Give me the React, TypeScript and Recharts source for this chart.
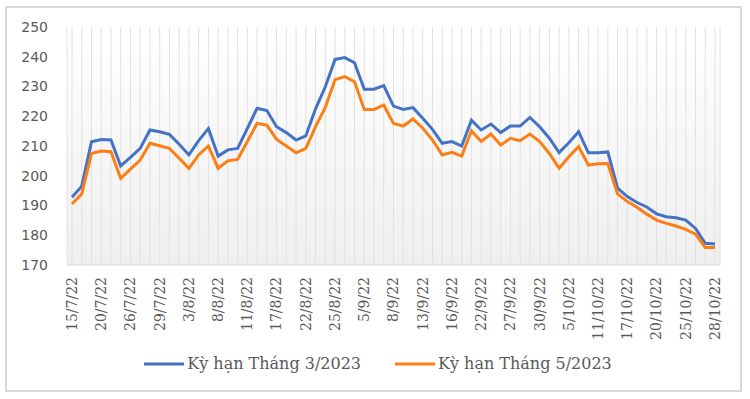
import { LineChart, Line, XAxis, YAxis, CartesianGrid, Legend } from 'recharts'

const DATES = [
  '15/7/22', '18/7/22', '19/7/22', '20/7/22', '21/7/22', '22/7/22', '26/7/22', '27/7/22', '28/7/22',
  '29/7/22', '1/8/22', '2/8/22', '3/8/22', '4/8/22', '5/8/22', '8/8/22', '9/8/22', '10/8/22',
  '11/8/22', '12/8/22', '16/8/22', '17/8/22', '18/8/22', '19/8/22', '22/8/22', '23/8/22', '24/8/22',
  '25/8/22', '26/8/22', '30/8/22', '5/9/22', '6/9/22', '7/9/22', '8/9/22', '9/9/22', '12/9/22',
  '13/9/22', '14/9/22', '15/9/22', '16/9/22', '19/9/22', '21/9/22', '22/9/22', '23/9/22', '26/9/22',
  '27/9/22', '28/9/22', '29/9/22', '30/9/22', '3/10/22', '4/10/22', '5/10/22', '6/10/22', '10/10/22',
  '11/10/22', '12/10/22', '14/10/22', '17/10/22', '18/10/22', '19/10/22', '20/10/22', '21/10/22', '24/10/22',
  '25/10/22', '26/10/22', '27/10/22', '28/10/22',
]

// Kỳ hạn Tháng 3/2023
const MARCH_2023 = [
  192.8, 196.5, 211.4, 212.2, 212, 203.3, 206.2, 209.2, 215.4,
  214.8, 213.9, 210.6, 207, 211.8, 215.9, 206.6, 208.7, 209.2,
  215.9, 222.7, 221.9, 216.5, 214.5, 212, 213.4, 222.5, 229.9,
  239.1, 239.7, 238, 229.1, 229.1, 230.3, 223.4, 222.3, 222.9,
  219.3, 215.6, 210.9, 211.5, 210, 218.7, 215.4, 217.4, 214.5,
  216.7, 216.7, 219.6, 216.5, 212.6, 207.8, 211.1, 214.8, 207.7,
  207.7, 208, 195.8, 193, 191, 189.5, 187.2, 186.2, 185.9,
  185.1, 182.3, 177.3, 177.1,
]

// Kỳ hạn Tháng 5/2023
const MAY_2023 = [
  190.5, 193.9, 207.5, 208.3, 208.1, 199.1, 202.2, 205.3, 210.9,
  210.1, 209.2, 205.9, 202.5, 207, 210, 202.5, 205, 205.5,
  211.5, 217.6, 217, 212.2, 210, 207.7, 209.2, 216.5, 223,
  232.3, 233.3, 231.6, 222.3, 222.3, 223.8, 217.6, 216.7, 219.1,
  216, 212, 207, 207.9, 206.6, 215.1, 211.5, 214, 210.3,
  212.6, 211.8, 214, 211.5, 207.5, 202.5, 206.4, 209.8, 203.6,
  204, 204.1, 193.9, 191.3, 189.4, 187.1, 185.1, 184, 183.1,
  182, 180.4, 175.9, 175.9,
]

const Y_TICKS = [170, 180, 190, 200, 210, 220, 230, 240, 250]
const SERIES = [
  { key: 'm3', name: 'Kỳ hạn Tháng 3/2023', color: '#4472C4' },
  { key: 'm5', name: 'Kỳ hạn Tháng 5/2023', color: '#FD7E14' },
]

const data = DATES.map((date, i) => ({ date, m3: MARCH_2023[i], m5: MAY_2023[i] }))

const LABEL_COLOR = '#595959'

function DateTick(props: any) {
  const { x, y, index, payload } = props
  if (index % 3 !== 0) return <g />
  return (
    <text
      x={x}
      y={y}
      dy="0.35em"
      transform={`rotate(-90, ${x}, ${y})`}
      textAnchor="end"
      fill={LABEL_COLOR}
      fontSize={14}
      fontFamily="'DejaVu Serif', serif"
    >
      {payload.value}
    </text>
  )
}

function LegendContent(props: any) {
  const items = props.payload || []
  return (
    <div style={{ display: 'flex', justifyContent: 'center', gap: 34, paddingLeft: 36 }}>
      {items.map((item: any) => (
        <div key={item.value} style={{ display: 'flex', alignItems: 'center' }}>
          <svg width={40} height={4} style={{ marginRight: 3 }}>
            <line x1={0} y1={2} x2={40} y2={2} stroke={item.color} strokeWidth={3} />
          </svg>
          <span style={{ fontFamily: "'DejaVu Serif', serif", fontSize: 16, color: LABEL_COLOR }}>{item.value}</span>
        </div>
      ))}
    </div>
  )
}

export default function App() {
  return (
    <div style={{ position: 'absolute', left: 0, top: 0, width: 750, height: 399, background: '#fff' }}>
      <div
        style={{
          position: 'absolute',
          left: 5,
          top: 6,
          width: 737,
          height: 386,
          border: '2px solid #d9d9d9',
          boxSizing: 'border-box',
        }}
      />
      <LineChart width={750} height={399} data={data} margin={{ top: 27, right: 30, bottom: 21, left: 0 }}>
        <defs>
          <linearGradient id="plotBg" x1="0" y1="0" x2="0" y2="1">
            <stop offset="0%" stopColor="#ffffff" />
            <stop offset="100%" stopColor="#efefef" />
          </linearGradient>
        </defs>
        <CartesianGrid horizontal={false} stroke="#e2e2e2" fill="url(#plotBg)" />
        <XAxis
          dataKey="date"
          interval={0}
          height={89}
          padding={{ left: 5, right: 5 }}
          tickLine={false}
          axisLine={{ stroke: '#d9d9d9' }}
          tick={<DateTick />}
          tickMargin={6}
        />
        <YAxis
          width={67}
          domain={[170, 250]}
          ticks={Y_TICKS}
          axisLine={false}
          tickLine={false}
          tickMargin={13}
          tick={{ fill: LABEL_COLOR, fontSize: 14, fontFamily: "'DejaVu Sans', sans-serif" }}
        />
        <Legend height={24} content={<LegendContent />} />
        {SERIES.map((s) => (
          <Line
            key={s.key}
            dataKey={s.key}
            name={s.name}
            stroke={s.color}
            strokeWidth={3}
            dot={false}
            type="linear"
            isAnimationActive={false}
          />
        ))}
      </LineChart>
    </div>
  )
}
